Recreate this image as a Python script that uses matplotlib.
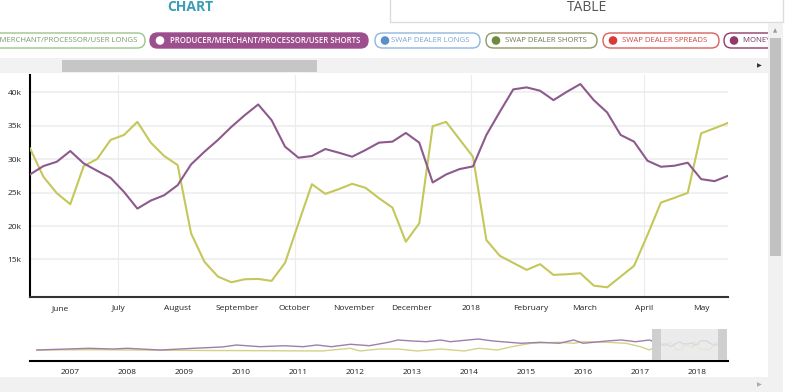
import matplotlib
matplotlib.use("Agg")
import matplotlib.pyplot as plt
from matplotlib.patches import FancyBboxPatch, Rectangle, Circle
import pandas as pd

plt.rcParams["font.family"] = ["Open Sans", "DejaVu Sans"]

# weekly data shown in the main chart
dates = pd.date_range("2017-05-16", periods=53, freq="7D")
shorts = [27700, 28950, 29600, 31200, 29350, 28250, 27200, 25100, 22600, 23800,
          24600, 26100, 29200, 31100, 32850, 34800, 36550, 38150, 35800, 31850,
          30200, 30450, 31500, 30950, 30350, 31350, 32450, 32600, 33900, 32450,
          26500, 27700, 28500, 28900, 33600, 37050, 40400, 40700, 40200, 38800,
          40050, 41200, 38800, 36950, 33600, 32600, 29750, 28850, 29000, 29450,
          27000, 26700, 27500]
longs = [31600, 27350, 24900, 23250, 28950, 30000, 32850, 33600, 35550, 32450,
         30450, 29100, 18900, 14650, 12450, 11600, 12050, 12100, 11800, 14500,
         20400, 26250, 24800, 25500, 26300, 25700, 24150, 22750, 17650, 20400,
         34900, 35550, 32950, 30350, 17900, 15550, 14500, 13450, 14300, 12700,
         12800, 12950, 11100, 10850, 12450, 14050, 18650, 23500, 24200, 24950,
         33850, 34600, 35400]

# longer history shown only in the navigator
nav_short_dates = ["2006-06", "2007-05", "2007-10", "2008-01", "2008-08", "2009-03",
                   "2009-09", "2009-12", "2010-05", "2010-10", "2011-02", "2011-05",
                   "2011-08", "2011-12", "2012-04", "2012-08", "2012-10", "2013-01",
                   "2013-04", "2013-07", "2013-09", "2014-03", "2014-06", "2014-12",
                   "2015-04", "2015-08", "2015-11", "2016-01", "2016-06", "2016-09",
                   "2016-12", "2017-03"]
nav_short_vals = [11000, 16500, 14200, 16500, 11000, 16500, 20700, 27100, 21600, 24800,
                  21600, 27100, 21600, 29400, 24800, 35800, 43200, 40000, 37700, 43200,
                  37700, 46400, 40000, 32600, 35800, 32600, 43200, 32600, 40000, 43200,
                  37700, 43200]
nav_long_dates = ["2006-06", "2007-06", "2008-06", "2009-06", "2010-06", "2011-06",
                  "2011-12", "2012-02", "2012-06", "2012-10", "2013-02", "2013-07",
                  "2013-12", "2014-03", "2014-07", "2014-10", "2015-02", "2015-08",
                  "2015-11", "2016-01", "2016-06", "2016-10", "2017-01", "2017-03"]
nav_long_vals = [11000, 12000, 10500, 9400, 8800, 7800, 16500, 7800, 14200, 14200,
                 7800, 14200, 7800, 16500, 11000, 21600, 32600, 35800, 32600, 37700,
                 35800, 32600, 21600, 11000]

month_ticks = pd.date_range("2017-06-01", "2018-05-01", freq="MS")
month_labels = ["2018" if d.month == 1 else d.strftime("%B") for d in month_ticks]
quarter_lines = [d for d in month_ticks if d.month in (1, 4, 7, 10)]
year_ticks = pd.date_range("2007-01-01", "2018-01-01", freq="YS")
y_ticks = [15000, 20000, 25000, 30000, 35000, 40000]

c_long = "#c4c75a"
c_short = "#8c5a8c"

W, H = 800, 392
fig = plt.figure(figsize=(W / 100, H / 100), dpi=100)


def px_axes(x0, y0, x1, y1, **kw):
    return fig.add_axes([x0 / W, 1 - y1 / H, (x1 - x0) / W, (y1 - y0) / H], **kw)


# page chrome (tabs, legend pills, scrollbars) drawn in pixel units
ui = px_axes(0, 0, W, H, zorder=0)
ui.set_xlim(0, W)
ui.set_ylim(H, 0)
ui.axis("off")

ui.add_patch(Rectangle((390, -2), 393, 24, facecolor="white", edgecolor="#dcdcdc", lw=1))
ui.text(190, 7, "CHART", color="#3a9db5", fontsize=10, fontweight="bold", ha="center", va="center")
ui.text(587, 7, "TABLE", color="#555555", fontsize=10, ha="center", va="center")

pills = [
    # x0, x1, label, edge, face, text colour, dot colour, text start
    (-60, 145, "PRODUCER/MERCHANT/PROCESSOR/USER LONGS", "#9cc58a", "white", "#7c9a70", "#7cb26a", None),
    (150, 368, "PRODUCER/MERCHANT/PROCESSOR/USER SHORTS", "#9c4f8c", "#9c4f8c", "white", "white", 170),
    (375, 480, "SWAP DEALER LONGS", "#8fb6df", "white", "#7aa6d4", "#5b8fc7", 391),
    (486, 597, "SWAP DEALER SHORTS", "#8d9a62", "white", "#707a5a", "#6f8a3c", 505),
    (603, 719, "SWAP DEALER SPREADS", "#d9605c", "white", "#d04848", "#d83a3a", 622),
    (724, 830, "MONEY MANAGER LONGS", "#8e3a6a", "white", "#7a3060", "#8e3a6a", 743),
]
for x0, x1, label, edge, face, tcol, dcol, tx in pills:
    ui.add_patch(FancyBboxPatch((x0, 33), x1 - x0, 15, boxstyle="round,pad=0,rounding_size=7.5",
                                facecolor=face, edgecolor=edge, lw=1, zorder=2))
    if tx is None:
        ui.text(137, 40.5, label, color=tcol, fontsize=5.6, ha="right", va="center", zorder=3)
    else:
        ui.add_patch(Circle((x0 + 10, 40.5), 4.3, facecolor=dcol, edgecolor="none", zorder=3))
        ui.text(tx, 40.5, label, color=tcol, fontsize=5.6, ha="left", va="center", zorder=3,
                fontweight="semibold" if face != "white" else "normal")

# horizontal scrollbar above the plot
ui.add_patch(Rectangle((0, 58), 768, 15, facecolor="#f2f2f2", edgecolor="none"))
ui.add_patch(Rectangle((62, 60), 255, 12, facecolor="#c6c6c6", edgecolor="none"))
ui.text(759, 65.5, "\u25b6", color="#333333", fontsize=4.5, ha="center", va="center")

# bottom band
ui.add_patch(Rectangle((0, 377), 768, 16, facecolor="#f1f1f1", edgecolor="none"))
ui.text(759, 385, "\u25b6", color="#aaaaaa", fontsize=4.5, ha="center", va="center")

# vertical page scrollbar, page edge to the right of it
ui.add_patch(Rectangle((783, 23), 20, 372, facecolor="white", edgecolor="none", zorder=10))
ui.add_patch(Rectangle((768, 23), 15, 372, facecolor="#f1f1f1", edgecolor="none", zorder=10))
ui.add_patch(Rectangle((770, 38), 11, 218, facecolor="#c1c1c1", edgecolor="none", zorder=11))
ui.text(775, 31, "\u25b2", color="#999999", fontsize=4, ha="center", va="center", zorder=11)

# main chart
ax = px_axes(30, 75, 728, 297, zorder=2)
ax.patch.set_alpha(0)
for y in y_ticks:
    ax.axhline(y, color="#f0f0f0", lw=1.5, zorder=0)
for d in quarter_lines:
    ax.axvline(d, color="#ececec", lw=0.8, zorder=0)
ax.plot(dates, longs, color=c_long, lw=1.5, zorder=3)
ax.plot(dates, shorts, color=c_short, lw=1.5, zorder=3)
ax.set_xlim(dates[0], dates[-1])
ax.set_ylim(9400, 42550)
ax.set_yticks(y_ticks)
ax.set_yticklabels([f"{v // 1000}k" for v in y_ticks])
ax.set_xticks(month_ticks)
ax.set_xticklabels(month_labels)
ax.tick_params(length=0, labelsize=6, colors="#222222", pad=6)
for s in ("top", "right"):
    ax.spines[s].set_visible(False)
ax.spines["left"].set_color("black")
ax.spines["left"].set_linewidth(1.5)
ax.spines["bottom"].set_color("#333333")
ax.spines["bottom"].set_linewidth(1.5)

# navigator
nav = px_axes(30, 327, 728, 361, zorder=2)
nav.patch.set_alpha(0)
nav_sd = list(pd.to_datetime(nav_short_dates)) + list(dates)
nav_ld = list(pd.to_datetime(nav_long_dates)) + list(dates)
nav.plot(nav_ld, nav_long_vals + longs, color="#d2d386", lw=1.0, zorder=2)
nav.plot(nav_sd, nav_short_vals + shorts, color="#9f7faa", lw=1.0, zorder=2)
nav.set_xlim(pd.Timestamp("2006-04-18"), pd.Timestamp("2018-07-17"))
nav.set_ylim(-24400, 85000)
handle = pd.Timedelta(days=58)
nav.axvspan(dates[0], dates[-1], ymin=0.03, ymax=0.94, color="#e8e8e8", alpha=0.85, lw=0, zorder=3)
nav.axvspan(dates[0] - handle, dates[0], ymin=0.03, ymax=0.94, color="#cfcfcf", lw=0, zorder=4)
nav.axvspan(dates[-1], dates[-1] + handle, ymin=0.03, ymax=0.94, color="#cfcfcf", lw=0, zorder=4)
nav.set_yticks([])
nav.set_xticks(year_ticks)
nav.set_xticklabels([str(d.year) for d in year_ticks])
nav.tick_params(length=0, labelsize=6, colors="#222222", pad=6)
for s in ("top", "right", "left"):
    nav.spines[s].set_visible(False)
nav.spines["bottom"].set_color("black")
nav.spines["bottom"].set_linewidth(1.5)

fig.savefig("out.png", dpi=100)
